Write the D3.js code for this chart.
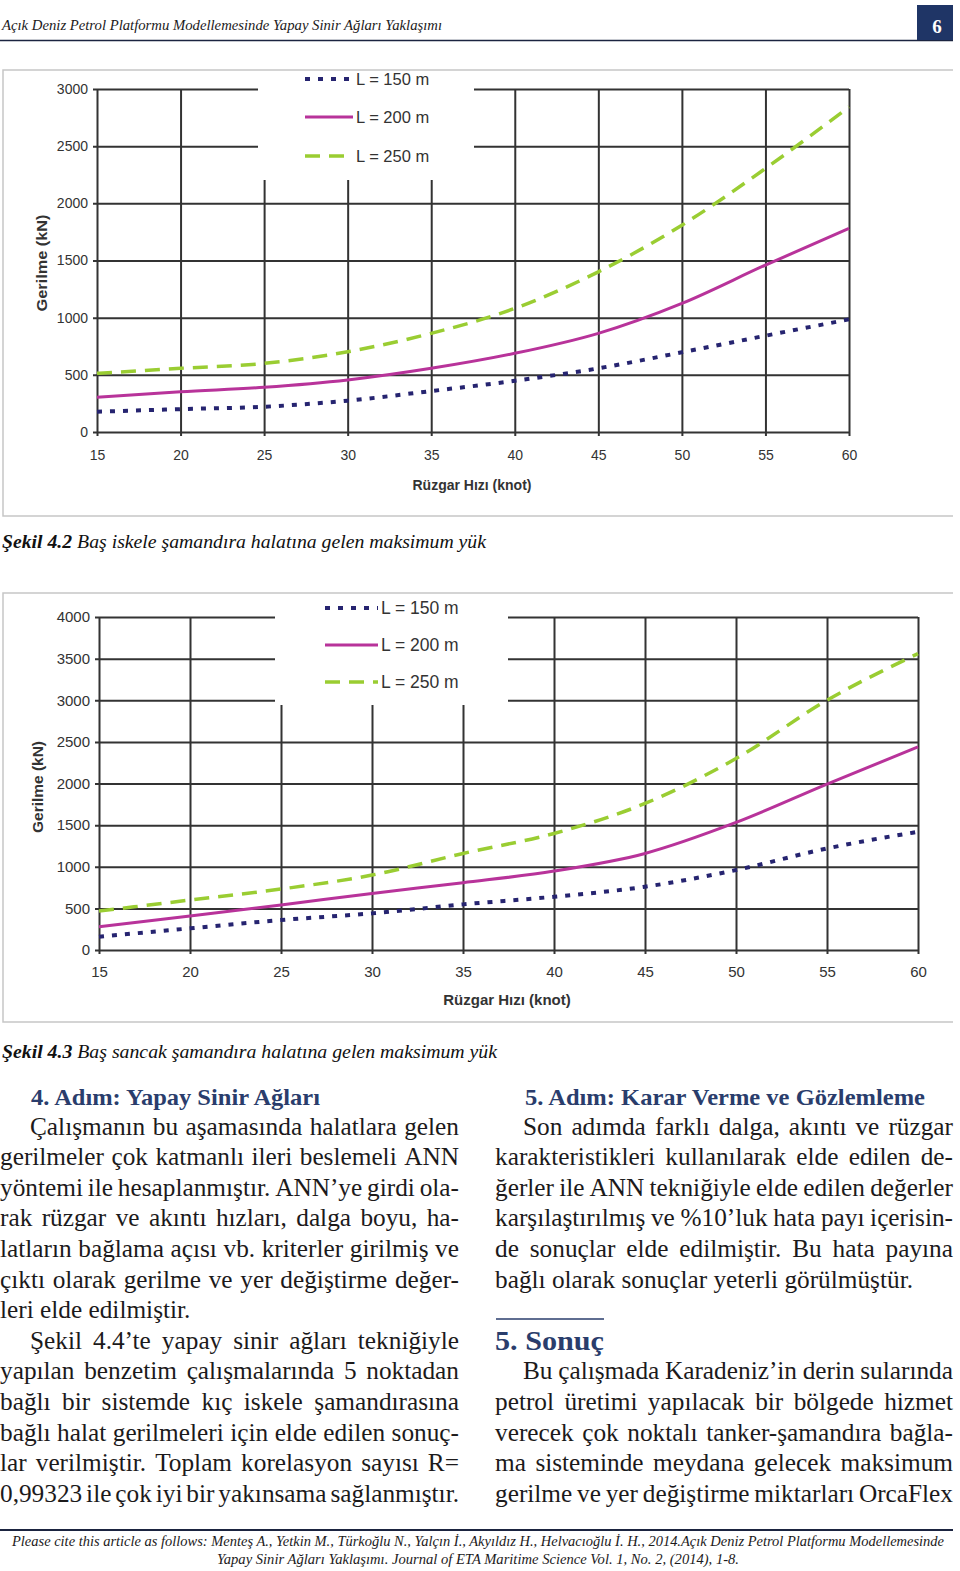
<!DOCTYPE html>
<html><head><meta charset="utf-8">
<script src="https://cdn.jsdelivr.net/npm/d3@7"></script>
<style>body{margin:0;background:#fff}svg{display:block}</style>
</head><body><svg id="page" width="960" height="1571"></svg>
<script>
// ---------- DATA ----------
const windSpeed = [15, 20, 25, 30, 35, 40, 45, 50, 55, 60];
const seriesNames = ["L = 150 m", "L = 200 m", "L = 250 m"];
// Şekil 4.2
const fig42L150 = [177, 200, 221, 274, 358, 448, 557, 697, 842, 985];
const fig42L200 = [303, 352, 391, 455, 557, 688, 863, 1125, 1460, 1780];
const fig42L250 = [513, 557, 600, 702, 863, 1081, 1401, 1809, 2305, 2843];
const fig42YTicks = [0, 500, 1000, 1500, 2000, 2500, 3000];
// Şekil 4.3
const fig43L150 = [160, 260, 360, 440, 548, 640, 760, 960, 1220, 1420];
const fig43L200 = [280, 408, 540, 680, 808, 948, 1160, 1532, 1992, 2440];
const fig43L250 = [468, 600, 732, 900, 1160, 1400, 1760, 2300, 3000, 3560];
const fig43YTicks = [0, 500, 1000, 1500, 2000, 2500, 3000, 3500, 4000];
const xTickLabels = windSpeed;
const yAxisTitle = "Gerilme (kN)";
const xAxisTitle = "Rüzgar Hızı (knot)";

const headerTitle = "Açık Deniz Petrol Platformu Modellemesinde Yapay Sinir Ağları Yaklaşımı";
const pageNumber = "6";
const caption42 = ["Şekil 4.2", " Baş iskele şamandıra halatına gelen maksimum yük"];
const caption43 = ["Şekil 4.3", " Baş sancak şamandıra halatına gelen maksimum yük"];
const heading4 = "4. Adım: Yapay Sinir Ağları";
const col1Lines = [
  "Çalışmanın bu aşamasında halatlara gelen",
  "gerilmeler çok katmanlı ileri beslemeli ANN",
  "yöntemi ile hesaplanmıştır. ANN’ye girdi ola-",
  "rak rüzgar ve akıntı hızları, dalga boyu, ha-",
  "latların bağlama açısı vb. kriterler girilmiş ve",
  "çıktı olarak gerilme ve yer değiştirme değer-",
  "leri elde edilmiştir.",
  "Şekil 4.4’te yapay sinir ağları tekniğiyle",
  "yapılan benzetim çalışmalarında 5 noktadan",
  "bağlı bir sistemde kıç iskele şamandırasına",
  "bağlı halat gerilmeleri için elde edilen sonuç-",
  "lar verilmiştir. Toplam korelasyon sayısı R=",
  "0,99323 ile çok iyi bir yakınsama sağlanmıştır."
];
const col1Indent = [0, 7];
const col1Ragged = [6];
const heading5 = "5. Adım: Karar Verme ve Gözlemleme";
const col2Lines = [
  "Son adımda farklı dalga, akıntı ve rüzgar",
  "karakteristikleri kullanılarak elde edilen de-",
  "ğerler ile ANN tekniğiyle elde edilen değerler",
  "karşılaştırılmış ve %10’luk hata payı içerisin-",
  "de sonuçlar elde edilmiştir. Bu hata payına",
  "bağlı olarak sonuçlar yeterli görülmüştür."
];
const heading6 = "5. Sonuç";
const col3Lines = [
  "Bu çalışmada Karadeniz’in derin sularında",
  "petrol üretimi yapılacak bir bölgede hizmet",
  "verecek çok noktalı tanker-şamandıra bağla-",
  "ma sisteminde meydana gelecek maksimum",
  "gerilme ve yer değiştirme miktarları OrcaFlex"
];
const footerLines = [
  "Please cite this article as follows: Menteş A., Yetkin M., Türkoğlu N., Yalçın İ., Akyıldız H., Helvacıoğlu İ. H., 2014.Açık Deniz Petrol Platformu Modellemesinde",
  "Yapay Sinir Ağları Yaklaşımı. Journal of ETA Maritime Science Vol. 1, No. 2, (2014), 1-8."
];

// ---------- STYLES ----------
const navy = "#1f3566";
const headColor = "#2a3d6c";
const textColor = "#1c1a1b";
const serif = "'Liberation Serif', 'Times New Roman', serif";
const sans = "'Liberation Sans', Arial, sans-serif";
const seriesStyle = [
  {color: "#262470", width: 4, dash: "5,8"},
  {color: "#b8339a", width: 3, dash: null},
  {color: "#9acd32", width: 3.5, dash: "15,9"}
];

const svg = d3.select("#page");

// ---------- HEADER ----------
svg.append("text").attr("x", 2).attr("y", 30)
  .attr("font-family", serif).attr("font-style", "italic").attr("font-size", 15)
  .attr("fill", textColor).attr("textLength", 440).attr("lengthAdjust", "spacingAndGlyphs")
  .text(headerTitle);
svg.append("line").attr("x1", 0).attr("x2", 953).attr("y1", 40.5).attr("y2", 40.5)
  .attr("stroke", "#1b2440").attr("stroke-width", 1.6);
svg.append("rect").attr("x", 917).attr("y", 5).attr("width", 36).attr("height", 35).attr("fill", navy);
svg.append("text").attr("x", 937).attr("y", 33).attr("text-anchor", "middle")
  .attr("font-family", serif).attr("font-weight", "bold").attr("font-size", 19)
  .attr("fill", "#fff").text(pageNumber);

// ---------- CHARTS ----------
function drawChart(cfg) {
  const g = svg.append("g");
  const f = cfg.frame;
  g.append("path").attr("d", `M${f.x1},${f.y0}H${f.x0}V${f.y1}H${f.x1}`)
    .attr("fill", "none").attr("stroke", "#c6c6c6").attr("stroke-width", 1.5);

  const p = cfg.plot;
  const x = d3.scaleLinear().domain([15, 60]).range([p.x0, p.x1]);
  const y = d3.scaleLinear().domain([0, cfg.yMax]).range([p.y1, p.y0]);

  const xAxis = g.append("g").attr("transform", `translate(0,${p.y1 + 4})`)
    .call(d3.axisBottom(x).tickValues(xTickLabels).tickFormat(d3.format("d"))
      .tickSizeInner(-(p.y1 - p.y0 + 4)).tickSizeOuter(0).tickPadding(cfg.xPad));
  const yAxis = g.append("g").attr("transform", `translate(${p.x0 - 4},0)`)
    .call(d3.axisLeft(y).tickValues(cfg.yTicks).tickFormat(d3.format("d"))
      .tickSizeInner(-(p.x1 - p.x0 + 4)).tickSizeOuter(0).tickPadding(5));
  [xAxis, yAxis].forEach(a => {
    a.select(".domain").remove();
    a.selectAll(".tick line").attr("stroke", "#333").attr("stroke-width", 2);
    a.selectAll(".tick text").attr("fill", "#333").attr("font-family", sans).attr("font-size", cfg.tickFont);
  });

  // legend background
  const L = cfg.legend;
  g.append("rect").attr("x", L.rx0).attr("y", f.y0 + 1).attr("width", L.rx1 - L.rx0).attr("height", L.ry1 - f.y0 - 1).attr("fill", "#fff");

  const line = d3.line().x((d, i) => x(windSpeed[i])).y(d => y(d)).curve(d3.curveMonotoneX);
  cfg.series.forEach((s, i) => {
    const st = seriesStyle[i];
    g.append("path").datum(s).attr("d", line).attr("fill", "none")
      .attr("stroke", st.color).attr("stroke-width", st.width)
      .attr("stroke-dasharray", st.dash);
  });

  seriesNames.forEach((name, i) => {
    const st = seriesStyle[i];
    g.append("line").attr("x1", L.lx0).attr("x2", L.lx1).attr("y1", L.ly[i]).attr("y2", L.ly[i])
      .attr("stroke", st.color).attr("stroke-width", st.width).attr("stroke-dasharray", st.dash);
    g.append("text").attr("x", L.tx).attr("y", L.ly[i] + L.font * 0.36)
      .attr("font-family", sans).attr("font-size", L.font).attr("fill", "#333").text(name);
  });

  // axis titles
  g.append("text").attr("transform", `translate(${cfg.yTitle.x},${cfg.yTitle.y}) rotate(-90)`)
    .attr("text-anchor", "middle").attr("font-family", sans).attr("font-weight", "bold")
    .attr("font-size", 14).attr("fill", "#333")
    .attr("textLength", cfg.yTitle.len).attr("lengthAdjust", "spacingAndGlyphs").text(yAxisTitle);
  g.append("text").attr("x", cfg.xTitle.x).attr("y", cfg.xTitle.y)
    .attr("text-anchor", "middle").attr("font-family", sans).attr("font-weight", "bold")
    .attr("font-size", cfg.xTitle.font).attr("fill", "#333").text(xAxisTitle);
}

drawChart({
  frame: {x0: 3, x1: 953, y0: 70, y1: 516},
  plot: {x0: 97, x1: 849, y0: 89, y1: 432},
  yMax: 3000, yTicks: fig42YTicks, tickFont: 14, xPad: 14,
  series: [fig42L150, fig42L200, fig42L250],
  legend: {rx0: 258, rx1: 474, ry1: 180, lx0: 305, lx1: 353, tx: 356, ly: [79, 117, 156], font: 16.5},
  yTitle: {x: 47, y: 263, len: 97},
  xTitle: {x: 472, y: 490, font: 14}
});

drawChart({
  frame: {x0: 3, x1: 953, y0: 593, y1: 1022},
  plot: {x0: 99, x1: 918, y0: 617, y1: 950},
  yMax: 4000, yTicks: fig43YTicks, tickFont: 15, xPad: 12,
  series: [fig43L150, fig43L200, fig43L250],
  legend: {rx0: 275, rx1: 508, ry1: 705, lx0: 325, lx1: 378, tx: 381, ly: [608, 645, 682], font: 17.5},
  yTitle: {x: 43, y: 787, len: 92},
  xTitle: {x: 507, y: 1005, font: 15}
});

// ---------- CAPTIONS ----------
function caption(parts, yb, len) {
  const t = svg.append("text").attr("x", 2).attr("y", yb)
    .attr("font-family", serif).attr("font-style", "italic").attr("font-size", 19.5)
    .attr("fill", "#111").attr("textLength", len).attr("lengthAdjust", "spacingAndGlyphs");
  t.append("tspan").attr("font-weight", "bold").text(parts[0]);
  t.append("tspan").text(parts[1]);
}
caption(caption42, 548, 484);
caption(caption43, 1058, 495);

// ---------- BODY TEXT ----------
const bodySize = 25.3;
const measurer = svg.append("text").attr("font-family", serif).attr("font-size", bodySize).attr("visibility", "hidden");
function wWidth(w) { measurer.text(w); return measurer.node().getComputedTextLength(); }
function bodyLine(text, x0, x1, yb, justify) {
  const t = svg.append("text").attr("y", yb).attr("font-family", serif)
    .attr("font-size", bodySize).attr("fill", textColor);
  if (!justify) { t.attr("x", x0).text(text); return; }
  const words = text.split(" ");
  const widths = words.map(wWidth);
  const gap = (x1 - x0 - d3.sum(widths)) / (words.length - 1);
  if (gap < 3) {
    t.attr("x", x0).attr("textLength", x1 - x0).attr("lengthAdjust", "spacingAndGlyphs").text(text);
    return;
  }
  let cx = x0;
  words.forEach((w, i) => { t.append("tspan").attr("x", cx).text(w); cx += widths[i] + gap; });
}
function heading(text, x, yb, size, len) {
  svg.append("text").attr("x", x).attr("y", yb).attr("font-family", serif)
    .attr("font-weight", "bold").attr("font-size", size).attr("fill", headColor)
    .attr("textLength", len).attr("lengthAdjust", "spacingAndGlyphs").text(text);
}
const lineStep = 30.6;
const top0 = 1134.5;
heading(heading4, 31, 1105, 23, 289);
col1Lines.forEach((s, i) => {
  const indent = col1Indent.includes(i) ? 30 : 0;
  bodyLine(s, indent, 459, top0 + i * lineStep, !col1Ragged.includes(i));
});
heading(heading5, 525, 1105, 23, 400);
col2Lines.forEach((s, i) => {
  bodyLine(s, i === 0 ? 523 : 495, 953, top0 + i * lineStep, i !== col2Lines.length - 1);
});
svg.append("line").attr("x1", 496).attr("x2", 604).attr("y1", 1319).attr("y2", 1319)
  .attr("stroke", headColor).attr("stroke-width", 1.5);
heading(heading6, 495, 1350, 27, 109);
col3Lines.forEach((s, i) => {
  bodyLine(s, i === 0 ? 523 : 495, 953, top0 + (i + 8) * lineStep, true);
});

// ---------- FOOTER ----------
svg.append("line").attr("x1", 0).attr("x2", 953).attr("y1", 1530).attr("y2", 1530)
  .attr("stroke", "#1b2440").attr("stroke-width", 2);
const footLens = [932, 522];
footerLines.forEach((s, i) => {
  svg.append("text").attr("x", 478).attr("y", 1546 + i * 18).attr("text-anchor", "middle")
    .attr("font-family", serif).attr("font-style", "italic").attr("font-size", 14.5)
    .attr("fill", textColor).attr("textLength", footLens[i]).attr("lengthAdjust", "spacingAndGlyphs")
    .text(s);
});
</script>
</body></html>
